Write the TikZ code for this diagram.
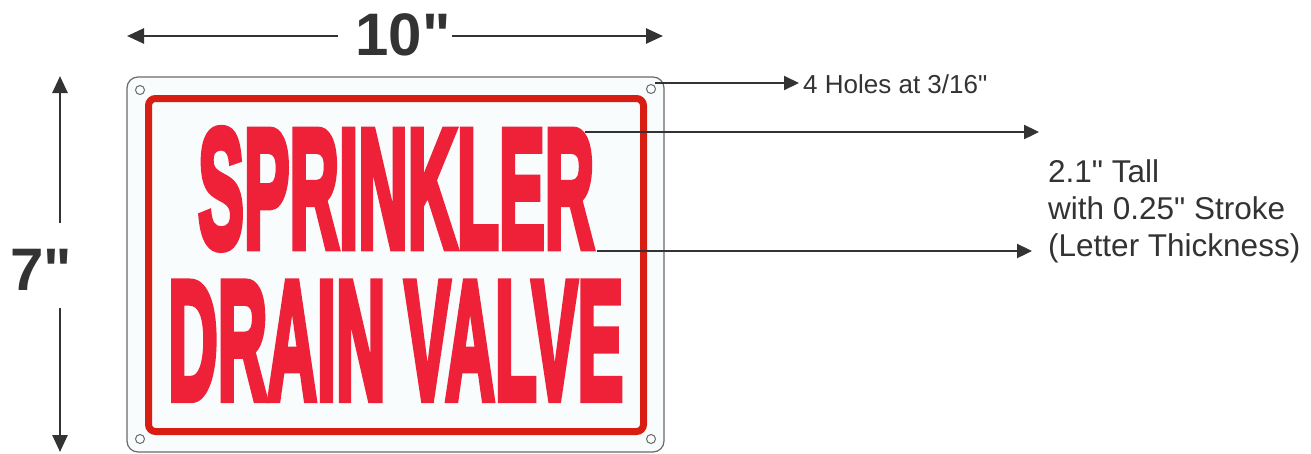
\documentclass[tikz,border=0pt]{standalone}
\usepackage{fontspec}
\usepackage{graphicx}
\newfontfamily\labfont{Liberation Sans}
\newfontfamily\signfont{Liberation Sans}[BoldFeatures={FakeBold=5}]
\usetikzlibrary{arrows.meta}
\definecolor{ink}{HTML}{333333}
\definecolor{framered}{HTML}{D81E12}
\definecolor{letterred}{HTML}{EF2139}
\definecolor{panel}{HTML}{F8FCFD}
\definecolor{edgegray}{HTML}{6A6A6A}
\tikzset{
  dimline/.style={draw=ink, line width=2.6pt, -{Triangle[length=17pt,width=15pt]}},
  callout/.style={draw=ink, line width=2.3pt, -{Triangle[length=15pt,width=14pt]}},
  hole/.style={circle, draw=edgegray, line width=1pt, fill=panel, minimum size=9pt, inner sep=0pt},
  dimtext/.style={text=ink, inner sep=0pt, font=\labfont\fontsize{60}{72}\selectfont\bfseries},
  notetext/.style={text=ink, inner sep=0pt, anchor=base west, font=\labfont\fontsize{31.5}{37}\selectfont},
  holetext/.style={text=ink, inner sep=0pt, anchor=base west, font=\labfont\fontsize{26}{30}\selectfont},
  signtext/.style={text=letterred, inner sep=0pt, anchor=south west, font=\signfont\bfseries}
}
\begin{document}
\begin{tikzpicture}[x=1pt,y=-1pt]
\path[use as bounding box, fill=white] (0,0) rectangle (1311,453);
% sign panel
\draw[draw=edgegray, fill=panel, line width=1.2pt, rounded corners=11pt] (127,77) rectangle (664,452);
\draw[draw=framered, line width=7pt, rounded corners=7pt] (148.5,98.5) rectangle (643.5,431.5);
% holes
\node[hole] (h1) at (140,90) {};
\node[hole] (h2) at (651,89) {};
\node[hole] (h3) at (140,439) {};
\node[hole] (h4) at (651,439) {};
% sign text
\node[signtext] (s1) at (198,249) {\resizebox{396pt}{118pt}{SPRINKLER}};
\node[signtext] (s2) at (168,399) {\resizebox{455pt}{116pt}{DRAIN VALVE}};
% width dimension
\node[dimtext, anchor=base] (w) at (403,55) {10"};
\coordinate (wl0) at (338,36);
\coordinate (wl) at (127,36);
\coordinate (wr0) at (452,36);
\coordinate (wr) at (663,36);
\draw[dimline] (wl0) -- (wl);
\draw[dimline] (wr0) -- (wr);
% height dimension
\node[dimtext, anchor=base] (hgt) at (41,290) {7"};
\coordinate (ht0) at (60,223);
\coordinate (ht) at (60,76);
\coordinate (hb0) at (60,308);
\coordinate (hb) at (60,452);
\draw[dimline] (ht0) -- (ht);
\draw[dimline] (hb0) -- (hb);
% holes callout
\coordinate (ha0) at (655,83);
\node[holetext] (hn) at (803,93) {4 Holes at 3/16"};
\coordinate (ha) at (799,83);
\draw[callout, line width=2pt] (ha0) -- (ha);
% letter height callouts
\coordinate (ta0) at (585,132);
\coordinate (ta) at (1039,132);
\coordinate (tb0) at (597,251);
\coordinate (tb) at (1032,251);
\draw[callout] (ta0) -- (ta);
\draw[callout] (tb0) -- (tb);
\node[notetext] (n1) at (1048,182) {2.1" Tall};
\node[notetext] (n2) at (1048,219) {with 0.25" Stroke};
\node[notetext] (n3) at (1048,256) {(Letter Thickness)};
\end{tikzpicture}
\end{document}
